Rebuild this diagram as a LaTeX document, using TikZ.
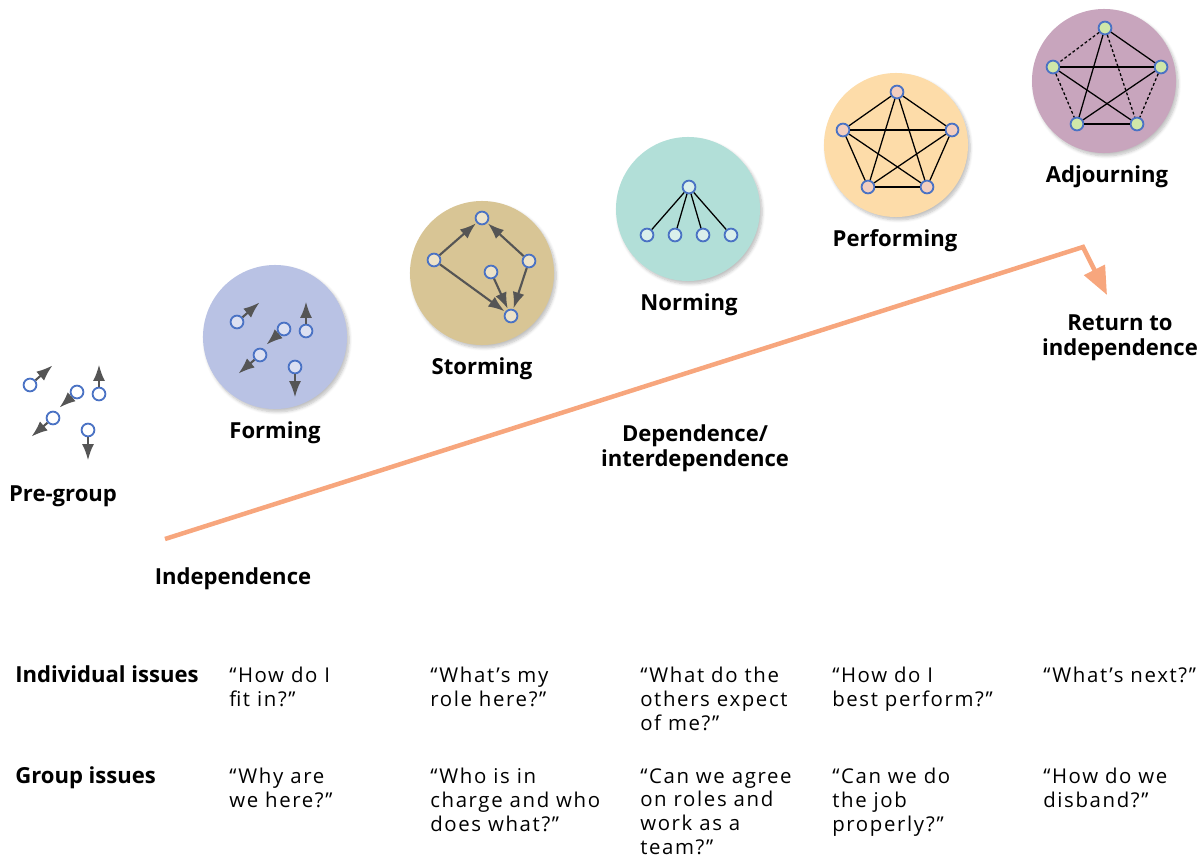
\documentclass[tikz,border=0pt]{standalone}
\usepackage{fontspec}
\setmainfont{Open Sans}
\newfontfamily\quotefont[LetterSpace=8]{Open Sans}
\usetikzlibrary{arrows.meta}
\usetikzlibrary{shadows.blur}

\definecolor{formbg}{HTML}{B9C2E4}
\definecolor{stormbg}{HTML}{D8C595}
\definecolor{normbg}{HTML}{B2DFD8}
\definecolor{perfbg}{HTML}{FDDCA9}
\definecolor{adjbg}{HTML}{C8A5BD}
\definecolor{formpt}{HTML}{DCE0F2}
\definecolor{stormpt}{HTML}{EDE3C9}
\definecolor{normpt}{HTML}{DAEFEB}
\definecolor{perfpt}{HTML}{F3CEBF}
\definecolor{adjpt}{HTML}{CFE7A9}
\definecolor{ptblue}{HTML}{4A72C4}
\definecolor{mvgray}{HTML}{555555}
\definecolor{trendorange}{HTML}{F7A67D}

\begin{document}
\begin{tikzpicture}[x=0.025cm, y=-0.025cm,
    stage/.style={circle, inner sep=0pt, minimum size=3.6cm,
      blur shadow={shadow xshift=1.5pt, shadow yshift=-2pt, shadow opacity=25, shadow blur steps=6}},
    pt/.style={circle, draw=ptblue, line width=1.3pt, inner sep=0pt, minimum size=0.32cm},
    mv/.style={draw=mvgray, line width=1.5pt, shorten >=0.5pt, -{Latex[length=11.5pt,width=8.5pt]}},
    tie/.style={line width=0.9pt},
    title/.style={font=\bfseries\fontsize{15.7}{17.5}\selectfont, align=center},
    quote/.style={font=\quotefont\fontsize{14.5}{17}\selectfont, align=left, anchor=north west, inner sep=0pt}]
  \useasboundingbox (0,0) rectangle (1202,862);

  % stage discs
  \foreach \s/\x/\y/\C in {frm/275/337/formbg, stm/482/273/stormbg, nrm/688/209/normbg, prf/896/145/perfbg, adj/1104/81/adjbg}
    \node[stage, fill=\C] (\s) at (\x,\y) {};

  % trend line
  \coordinate (lo) at (165,539);
  \coordinate (hi) at (1083,247);
  \coordinate (back) at (1107,295);
  \draw[draw=trendorange, line width=3.2pt, -{Triangle[length=20pt,width=16pt]}] (lo) -- (hi) -- (back);

  % loose members: pre-group, and the same again inside forming
  \foreach \g/\dx/\dy/\F in {pre/0/0/white, frm/207/-63/formpt}
  {
    \foreach \i/\x/\y/\ex/\ey in {1/30/385/53/365, 2/77/392/59/408, 3/99/394/99/364, 4/53/418/31/437, 5/88/430/88/461}
    {
      \node[pt, fill=\F] (\g\i) at (\x+\dx,\y+\dy) {};
      \coordinate (\g\i e) at (\ex+\dx,\ey+\dy);
      \draw[mv] (\g\i) -- (\g\i e);
    }
  }

  % storming
  \foreach \i/\x/\y in {1/482/218, 2/434/260, 3/529/261, 4/491/272, 5/511/316}
    \node[pt, fill=stormpt] (stm\i) at (\x,\y) {};
  \foreach \a/\b in {2/1, 3/1, 2/5, 4/5, 3/5}
    \draw[mv] (stm\a) -- (stm\b);

  % norming
  \node[pt, fill=normpt] (nrm0) at (689,187) {};
  \foreach \i/\x in {1/647, 2/675, 3/703, 4/731}
  {
    \node[pt, fill=normpt] (nrm\i) at (\x,235) {};
    \draw[tie] (nrm0) -- (nrm\i);
  }

  % performing
  \foreach \i/\x/\y in {1/897/92, 2/843/130, 3/952/130, 4/868/187, 5/927/187}
    \node[pt, fill=perfpt] (prf\i) at (\x,\y) {};
  \foreach \a/\b in {1/2, 1/3, 1/4, 1/5, 2/3, 2/4, 2/5, 3/4, 3/5, 4/5}
    \draw[tie] (prf\a) -- (prf\b);

  % adjourning
  \foreach \i/\x/\y in {1/1105/28, 2/1053/67, 3/1161/67, 4/1077/124, 5/1137/124}
    \node[pt, fill=adjpt] (adj\i) at (\x,\y) {};
  \foreach \a/\b in {1/3, 1/4, 2/3, 2/5, 3/4, 4/5}
    \draw[tie] (adj\a) -- (adj\b);
  \foreach \a/\b in {1/2, 1/5, 2/4, 3/5}
    \draw[tie, dash pattern=on 2pt off 1.6pt] (adj\a) -- (adj\b);

  % stage names
  \foreach \s/\x/\y/\T in {pre/63/496/Pre-group, frm/275/433/Forming, stm/482/369/Storming, nrm/689/305/Norming, prf/895/241/Performing, adj/1107/177/Adjourning}
    \node[title] (\s name) at (\x,\y) {\T};

  \node[title] (indep) at (233,579) {Independence};
  \node[title] (dep) at (695,448) {Dependence/\\interdependence};
  \node[title] (ret) at (1120,338) {Return to\\independence};

  % issues table
  \node[title, anchor=base west, inner sep=0pt] (indiv) at (15,682) {Individual issues};
  \node[title, anchor=base west, inner sep=0pt] (grp) at (15,783) {Group issues};
  \foreach \s/\x/\Q/\R in {a/229/{“How do I\\fit in?”}/{“Why are\\we here?”},
                           b/430/{“What’s my\\role here?”}/{“Who is in\\charge and who\\does what?”},
                           c/640/{“What do the\\others expect\\of me?”}/{“Can we agree\\on roles and\\work as a\\team?”},
                           d/832/{“How do I\\best perform?”}/{“Can we do\\the job\\properly?”},
                           e/1043/{“What’s next?”}/{“How do we\\disband?”}}
  {
    \node[quote] (q\s) at (\x,667) {\Q};
    \node[quote] (r\s) at (\x,768) {\R};
  }
\end{tikzpicture}
\end{document}
